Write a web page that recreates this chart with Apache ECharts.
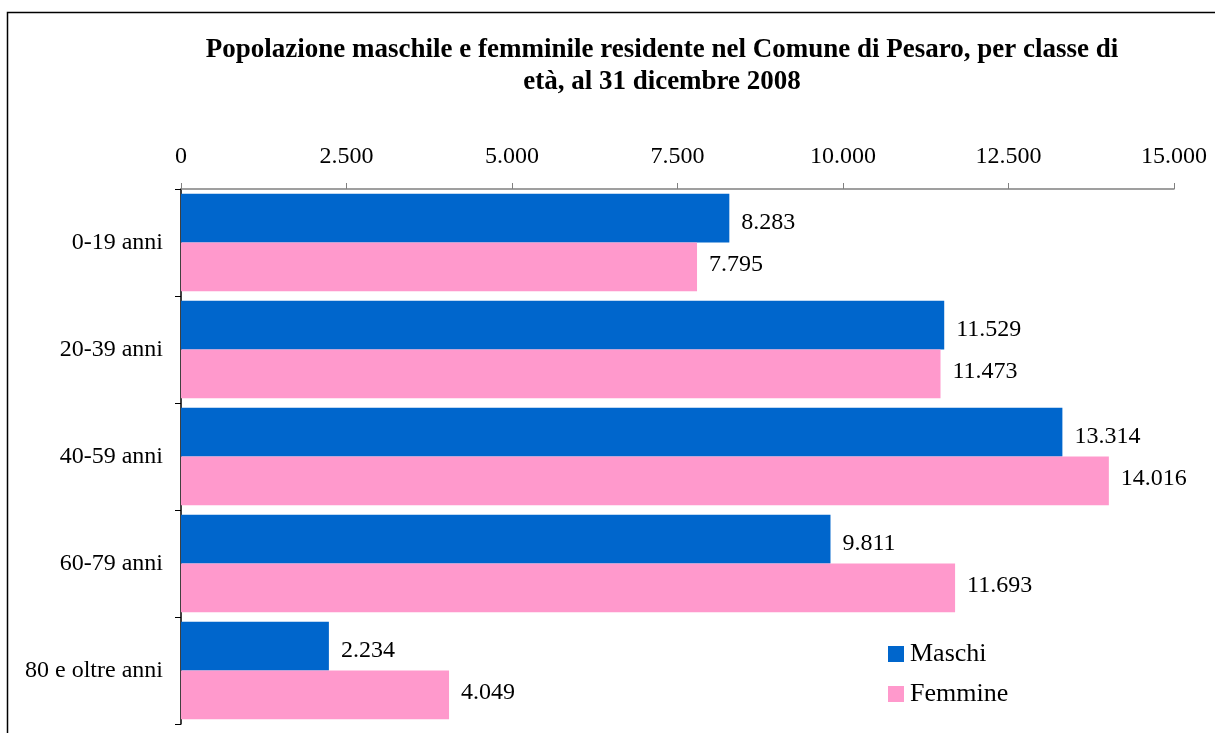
<!DOCTYPE html>
<html>
<head>
<meta charset="utf-8">
<script src="https://cdn.jsdelivr.net/npm/echarts@6/dist/echarts.min.js"></script>
<style>html,body{margin:0;padding:0;background:#fff}#c{width:1215px;height:733px}</style>
</head>
<body>
<div id="c"></div>
<script>
const categories = ['0-19 anni', '20-39 anni', '40-59 anni', '60-79 anni', '80 e oltre anni'];
const maschi = [8283, 11529, 13314, 9811, 2234];
const femmine = [7795, 11473, 14016, 11693, 4049];
const xMin = 0, xMax = 15000, xStep = 2500;

const fmt = v => String(Math.round(v)).replace(/\B(?=(\d{3})+(?!\d))/g, '.');
const FONT = '"Liberation Serif", "Times New Roman", serif';

const chart = echarts.init(document.getElementById('c'));
chart.setOption({
  animation: false,
  backgroundColor: '#fff',
  graphic: [{
    type: 'rect',
    shape: { x: 7.5, y: 12.5, width: 1400, height: 900 },
    style: { fill: 'none', stroke: '#000', lineWidth: 1.5 },
    silent: true
  }],
  title: {
    text: 'Popolazione maschile e femminile residente nel Comune di Pesaro, per classe di\netà, al 31 dicembre 2008',
    left: 657,
    top: 29,
    textAlign: 'center',
    textStyle: { fontFamily: FONT, fontWeight: 'bold', fontSize: 27, lineHeight: 32, color: '#000' }
  },
  legend: {
    orient: 'vertical',
    left: 883,
    top: 636,
    itemWidth: 16,
    itemHeight: 16,
    itemGap: 14,
    icon: 'rect',
    textStyle: { fontFamily: FONT, fontSize: 26, color: '#000', padding: [0, 0, 0, 1] },
    data: ['Maschi', 'Femmine']
  },
  grid: { left: 181, right: 41, top: 189, bottom: 9, containLabel: false },
  xAxis: {
    type: 'value',
    position: 'top',
    min: xMin, max: xMax, interval: xStep,
    axisLine: { show: true, lineStyle: { color: '#808080', width: 1.5 } },
    axisTick: { show: true, length: 6, lineStyle: { color: '#808080' } },
    splitLine: { show: false },
    axisLabel: { formatter: fmt, fontFamily: FONT, fontSize: 24, color: '#000', margin: 20 }
  },
  yAxis: {
    type: 'category',
    inverse: true,
    data: categories,
    axisLine: { show: true, lineStyle: { color: '#000', width: 1.5 } },
    axisTick: { show: true, length: 6, lineStyle: { color: '#000' } },
    axisLabel: { fontFamily: FONT, fontSize: 24, color: '#000', margin: 18 }
  },
  series: [
    {
      name: 'Maschi', type: 'bar', data: maschi,
      itemStyle: { color: '#0066CC' },
      barGap: '0%', barCategoryGap: '9%',
      label: { show: true, position: 'right', distance: 12, offset: [0, 5], formatter: p => fmt(p.value), fontFamily: FONT, fontSize: 24, color: '#000' }
    },
    {
      name: 'Femmine', type: 'bar', data: femmine,
      itemStyle: { color: '#FF99CC' },
      barGap: '0%', barCategoryGap: '9%',
      label: { show: true, position: 'right', distance: 12, offset: [0, -2], formatter: p => fmt(p.value), fontFamily: FONT, fontSize: 24, color: '#000' }
    }
  ]
});
</script>
</body>
</html>
